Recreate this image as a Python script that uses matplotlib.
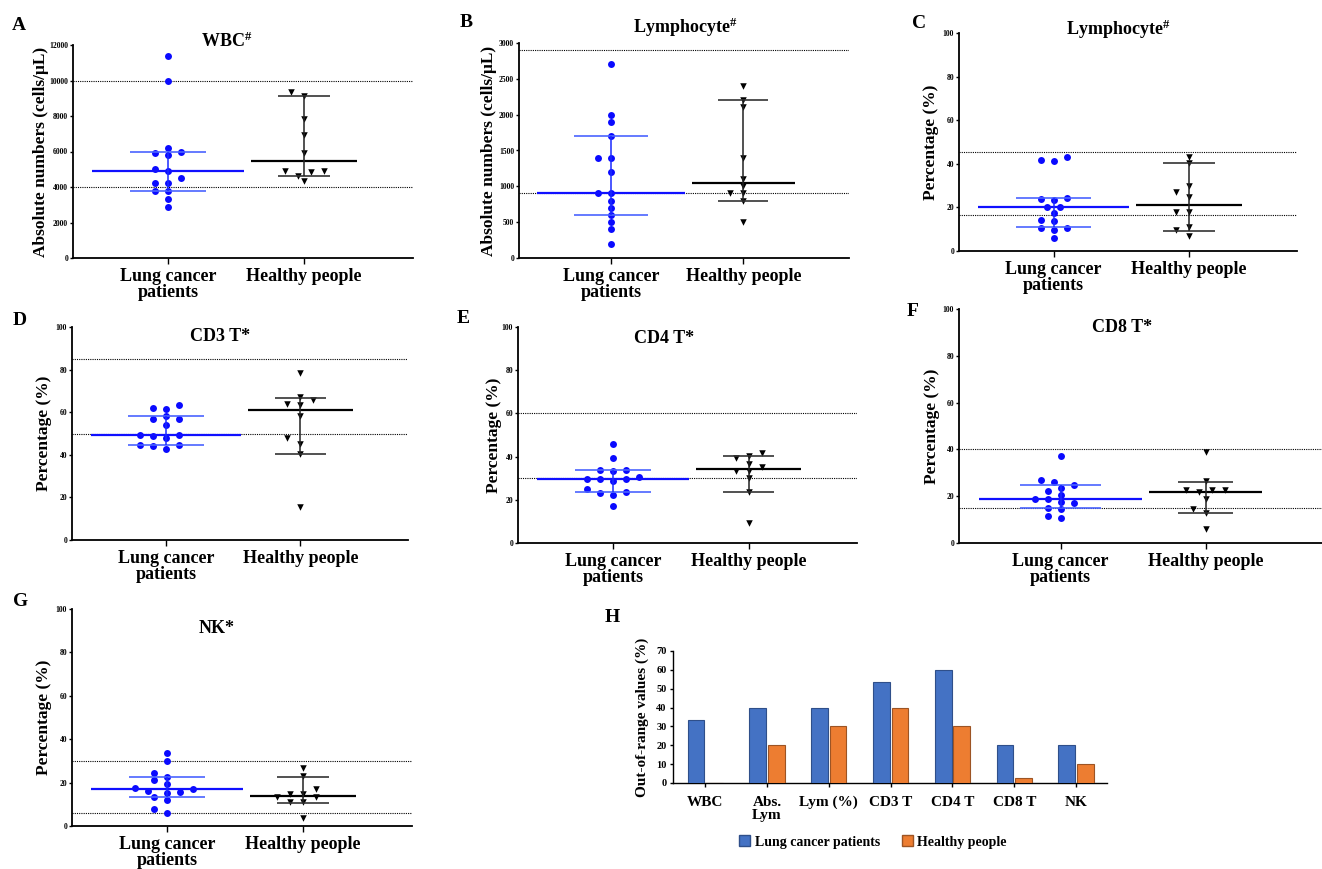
import numpy as np
import matplotlib.pyplot as plt
from matplotlib.patches import Patch

plt.rcParams['font.family'] = ['Liberation Serif', 'DejaVu Serif']
plt.rcParams['font.weight'] = 'bold'
plt.rcParams['axes.labelweight'] = 'bold'
plt.rcParams['mathtext.fontset'] = 'custom'
plt.rcParams['mathtext.rm'] = 'Liberation Serif:bold'
plt.rcParams['mathtext.it'] = 'Liberation Serif:bold'
plt.rcParams['mathtext.bf'] = 'Liberation Serif:bold'

W, H = 1322, 869
groups = ['Lung cancer\npatients', 'Healthy people']

# A - WBC
wbc_lung = [11400, 10000, 6200, 6000, 5900, 5800, 5000, 4900, 4500, 4200, 4200, 3800, 3800, 3300, 2900]
wbc_healthy = [9340, 9100, 7840, 6940, 5940, 4910, 4910, 4820, 4630, 4310]
wbc_lung_bars = [3800, 4900, 6000]      # lower, centre, upper
wbc_healthy_bars = [4600, 5450, 9100]
wbc_ref = [4000, 10000]

# B - lymphocyte absolute
lym_abs_lung = [2700, 2000, 1900, 1700, 1400, 1400, 1200, 900, 900, 800, 700, 600, 500, 400, 200]
lym_abs_healthy = [2400, 2200, 2100, 1400, 1100, 1000, 900, 900, 800, 500]
lym_abs_lung_bars = [600, 900, 1700]
lym_abs_healthy_bars = [800, 1050, 2200]
lym_abs_ref = [900, 2900]

# C - lymphocyte %
lym_pct_lung = [43.3, 41.7, 41.1, 24.2, 24.0, 23.3, 20.1, 20.1, 17.5, 14.1, 13.8, 10.7, 10.4, 9.5, 6.1]
lym_pct_healthy = [43.3, 40.3, 29.8, 27.0, 24.7, 18.1, 18.1, 11.0, 9.5, 7.1]
lym_pct_lung_bars = [10.8, 20.1, 24.2]
lym_pct_healthy_bars = [9.4, 21.3, 40.5]
lym_pct_ref = [16.7, 45.3]

# D - CD3 T
cd3_lung = [63.3, 62.2, 61.4, 58.1, 56.7, 56.7, 54.2, 49.5, 49.2, 48.9, 48.1, 44.8, 44.8, 44.1, 42.8]
cd3_healthy = [78.6, 67.0, 65.6, 63.9, 63.6, 58.4, 47.7, 45.2, 40.3, 15.5]
cd3_lung_bars = [44.8, 49.5, 58.0]
cd3_healthy_bars = [40.2, 60.9, 66.7]
cd3_ref = [50, 85]

# E - CD4 T
cd4_lung = [46.0, 39.5, 34.0, 33.6, 33.5, 30.4, 29.8, 29.6, 29.5, 28.5, 24.8, 23.5, 23.1, 22.2, 17.0]
cd4_healthy = [41.7, 40.4, 39.2, 36.7, 35.2, 33.3, 33.3, 30.1, 23.8, 9.4]
cd4_lung_bars = [23.6, 29.8, 33.6]
cd4_healthy_bars = [23.5, 34.1, 40.1]
cd4_ref = [30, 60]

# F - CD8 T
cd8_lung = [37.3, 26.9, 26.1, 25.0, 23.6, 22.3, 20.7, 19.0, 18.6, 17.7, 16.9, 15.0, 14.6, 11.7, 10.6]
cd8_healthy = [38.7, 26.4, 22.6, 22.6, 22.6, 21.6, 19.0, 14.7, 13.0, 6.0]
cd8_lung_bars = [15.0, 19.0, 25.0]
cd8_healthy_bars = [12.9, 21.7, 26.0]
cd8_ref = [15, 40]

# G - NK
nk_lung = [33.7, 30.0, 24.5, 22.5, 21.2, 19.5, 17.4, 17.1, 16.2, 15.5, 15.2, 13.5, 12.0, 8.0, 5.8]
nk_healthy = [26.6, 23.2, 17.2, 14.8, 14.8, 13.5, 13.2, 11.2, 10.9, 3.5]
nk_lung_bars = [13.5, 17.1, 22.5]
nk_healthy_bars = [10.5, 14.0, 22.6]
nk_ref = [6, 30]

# H - out-of-range bars
bar_labels = ['WBC', 'Abs.\nLym', 'Lym (%)', 'CD3 T', 'CD4 T', 'CD8 T', 'NK']
bar_lung = [33.3, 40, 40, 53.3, 60, 20, 20]
bar_healthy = [0, 20, 30, 40, 30, 2.7, 10]


def rect(l, r, t, b):
    return [l / W, 1 - b / H, (r - l) / W, (b - t) / H]


def swarm(ax, xc, vals, dx=13, dy=6.5, step=6.5):
    # greedy beeswarm in pixel space
    vals = np.asarray(vals, float)
    pts = ax.transData.transform(np.column_stack([np.full(len(vals), xc), vals]))
    placed = []
    xs = np.zeros(len(vals))
    for i in np.argsort(vals):
        px, py = pts[i]
        found = None
        for k in range(40):
            for c in ([0] if k == 0 else [-k, k]):
                cx = px + c * step
                if all(((cx - qx) / dx) ** 2 + ((py - qy) / dy) ** 2 >= 1 for qx, qy in placed):
                    found = cx
                    break
            if found is not None:
                break
        placed.append((found, py))
        xs[i] = found
    return ax.transData.inverted().transform(np.column_stack([xs, pts[:, 1]]))[:, 0]


panels = [
    ('A', r'WBC$^{\#}$', wbc_lung, wbc_healthy, wbc_lung_bars, wbc_healthy_bars, wbc_ref,
     (73, 413, 45, 258), 12000, 2000, 'Absolute numbers (cells/μL)', (0.453, 0.99), (12, 30), 24),
    ('B', r'Lymphocyte$^{\#}$', lym_abs_lung, lym_abs_healthy, lym_abs_lung_bars, lym_abs_healthy_bars, lym_abs_ref,
     (519, 849, 43, 258), 3000, 500, 'Absolute numbers (cells/μL)', (0.503, 1.045), (460, 27), 22),
    ('C', r'Lymphocyte$^{\#}$', lym_pct_lung, lym_pct_healthy, lym_pct_lung_bars, lym_pct_healthy_bars, lym_pct_ref,
     (959, 1297, 33, 251), 100, 20, 'Percentage (%)', (0.47, 0.99), (912, 28), 20),
    ('D', 'CD3 T*', cd3_lung, cd3_healthy, cd3_lung_bars, cd3_healthy_bars, cd3_ref,
     (72, 408, 327, 540), 100, 20, 'Percentage (%)', (0.44, 0.934), (13, 325), 20),
    ('E', 'CD4 T*', cd4_lung, cd4_healthy, cd4_lung_bars, cd4_healthy_bars, cd4_ref,
     (518, 857, 327, 543), 100, 20, 'Percentage (%)', (0.43, 0.926), (457, 323), 16),
    ('F', 'CD8 T*', cd8_lung, cd8_healthy, cd8_lung_bars, cd8_healthy_bars, cd8_ref,
     (959, 1322, 309, 543), 100, 20, 'Percentage (%)', (0.45, 0.90), (907, 316), 19),
    ('G', 'NK*', nk_lung, nk_healthy, nk_lung_bars, nk_healthy_bars, nk_ref,
     (72, 412, 609, 826), 100, 20, 'Percentage (%)', (0.424, 0.889), (13, 606), 20),
]

fig = plt.figure(figsize=(W / 100, H / 100), dpi=100)

for (letter, title, lung, healthy, lbars, hbars, ref, box, ymax, ystep,
     ylabel, tpos, lpos, loff) in panels:
    ax = fig.add_axes(rect(*box))
    ax.set_xlim(0.3, 2.8)
    ax.set_ylim(0, ymax)
    for s in ['top', 'right']:
        ax.spines[s].set_visible(False)
    for s in ['left', 'bottom']:
        ax.spines[s].set_linewidth(1.3)
    ax.set_yticks(np.arange(0, ymax + 1, ystep))
    ax.tick_params(axis='y', labelsize=5.5, length=2.5, width=1, pad=1)
    ax.set_xticks([1, 2])
    ax.set_xticklabels(groups, fontsize=13, fontweight='bold', linespacing=0.92)
    ax.tick_params(axis='x', length=4, width=1, pad=3)

    for r in ref:
        ax.axhline(r, color='black', lw=0.8, ls=(0, (1, 1)), zorder=1)

    # lung: blue circles, median + IQR
    xl = swarm(ax, 1, lung)
    ax.scatter(xl, lung, s=25, color='#0a0aff', marker='o', lw=0, zorder=3)
    ax.hlines(lbars[1], 1 - 0.56, 1 + 0.56, color='#1010ff', lw=1.6, zorder=4)
    ax.hlines([lbars[0], lbars[2]], 1 - 0.28, 1 + 0.28, color='#4a64ff', lw=1.2, zorder=4)
    ax.vlines(1, lbars[0], lbars[2], color='#1a2aff', lw=1.1, zorder=4)

    # healthy: black triangles
    xh = swarm(ax, 2, healthy)
    ax.scatter(xh, healthy, s=22, color='black', marker='v', lw=0, zorder=3)
    ax.hlines(hbars[1], 2 - 0.39, 2 + 0.39, color='black', lw=1.6, zorder=4)
    ax.hlines([hbars[0], hbars[2]], 2 - 0.19, 2 + 0.19, color='#333333', lw=1.2, zorder=4)
    ax.vlines(2, hbars[0], hbars[2], color='#222222', lw=1.1, zorder=4)

    ax.text(tpos[0], tpos[1], title, transform=ax.transAxes, ha='center', va='baseline',
            fontsize=13, fontweight='bold')
    ax.set_ylabel(ylabel, fontsize=12.5, fontweight='bold')
    ax.yaxis.set_label_coords(-loff / (box[1] - box[0]), 0.5)
    fig.text(lpos[0] / W, 1 - lpos[1] / H, letter, fontsize=14, fontweight='bold',
             ha='left', va='baseline')

# panel H
axh = fig.add_axes(rect(673, 1107, 651, 783))
x = np.arange(len(bar_labels))
axh.bar(x - 0.15, bar_lung, 0.27, color='#4472C4', edgecolor='#2F4F8A', lw=0.8, zorder=3)
axh.bar(x + 0.15, bar_healthy, 0.27, color='#ED7D31', edgecolor='#9C5424', lw=0.8, zorder=3)
axh.set_xlim(-0.52, 6.5)
axh.set_ylim(0, 70)
axh.set_yticks(np.arange(0, 71, 10))
axh.tick_params(axis='y', labelsize=7.5, length=2.5, width=1, pad=2)
axh.set_xticks(x)
axh.set_xticklabels(bar_labels, fontsize=11, fontweight='bold', linespacing=1.0)
axh.tick_params(axis='x', length=3, width=1, pad=6)
for s in ['top', 'right']:
    axh.spines[s].set_visible(False)
for s in ['left', 'bottom']:
    axh.spines[s].set_linewidth(1.0)
axh.set_ylabel('Out-of-range values (%)', fontsize=11, fontweight='bold')
axh.yaxis.set_label_coords(-24 / 434, 0.5)
fig.text(605 / W, 1 - 622 / H, 'H', fontsize=14, fontweight='bold', ha='left', va='baseline')

handles = [Patch(facecolor='#4472C4', edgecolor='#2F4F8A'),
           Patch(facecolor='#ED7D31', edgecolor='#9C5424')]
fig.legend(handles, ['Lung cancer patients', 'Healthy people'], loc='center',
           bbox_to_anchor=(873 / W, 1 - 842 / H), ncol=2, frameon=False, fontsize=10,
           handlelength=0.8, handleheight=0.8, handletextpad=0.3, columnspacing=1.6)

fig.savefig('out.png', dpi=100)
